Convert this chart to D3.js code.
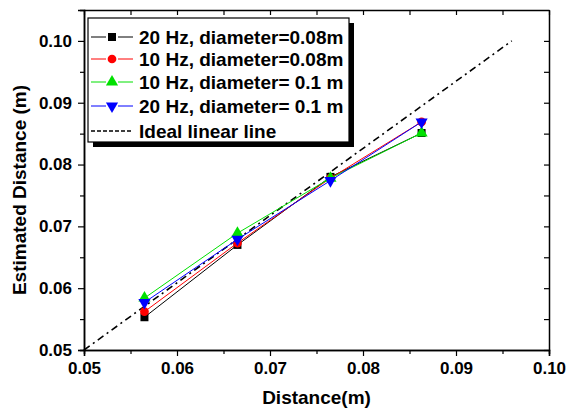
<!DOCTYPE html>
<html>
<head>
<meta charset="utf-8">
<script src="https://cdn.jsdelivr.net/npm/d3@7"></script>
<style>
  body { margin: 0; background: #fff; }
  svg text { font-family: "Liberation Sans", Arial, sans-serif; font-weight: bold; }
</style>
</head>
<body>
<svg id="chart" width="568" height="412"></svg>
<script>
'use strict';

// measured distances (x) and the estimates of each run
var distances = [0.0565, 0.0665, 0.0765, 0.0863];
var est20Hz008 = [0.0553, 0.0670, 0.0780, 0.0851];
var est10Hz008 = [0.0562, 0.0673, 0.0778, 0.0869];
var est10Hz01 = [0.0584, 0.0689, 0.0778, 0.0851];
var est20Hz01 = [0.0577, 0.0679, 0.0774, 0.0869];
var idealX = [0.05, 0.096];
var idealY = [0.05, 0.10];
var tickValues = [0.05, 0.06, 0.07, 0.08, 0.09, 0.10];
var minorTicks = [0.055, 0.065, 0.075, 0.085, 0.095];

var seriesNames = ['20 Hz, diameter=0.08m', '10 Hz, diameter=0.08m', '10 Hz, diameter= 0.1 m', '20 Hz, diameter= 0.1 m'];
var seriesColors = ['#000000', '#ff0000', '#00e000', '#0000ff'];
var seriesShapes = ['square', 'circle', 'triangle', 'triangleDown'];
var seriesValues = [est20Hz008, est10Hz008, est10Hz01, est20Hz01];

var margin = {top: 10, right: 19, bottom: 62, left: 84},
  width = 568 - margin.left - margin.right,
  height = 412 - margin.top - margin.bottom;

var svg = d3.select('#chart')
  .append('g')
  .attr('transform', 'translate(' + margin.left + ',' + margin.top + ')');

var x = d3.scaleLinear().domain([0.05, 0.10]).range([0, width]);
var y = d3.scaleLinear().domain([0.05, 0.105]).range([height, 0]);

// axes: bottom/left outward, top/right inward
var fmt = d3.format('.2f');
function styleAxis(g) {
  g.selectAll('path').attr('stroke', '#000').attr('stroke-width', 1.5);
  g.selectAll('line').attr('stroke', '#000').attr('stroke-width', 1.2);
  g.selectAll('text').style('font-size', '17px').attr('fill', '#000');
}

svg.append('g').attr('transform', 'translate(0,' + height + ')')
  .call(d3.axisBottom(x).tickValues(minorTicks).tickSize(4).tickFormat(''))
  .call(styleAxis);
svg.append('g').attr('transform', 'translate(0,' + height + ')')
  .call(d3.axisBottom(x).tickValues(tickValues).tickSize(6).tickPadding(6).tickFormat(fmt))
  .call(styleAxis);
svg.append('g')
  .call(d3.axisLeft(y).tickValues(minorTicks).tickSize(4).tickFormat(''))
  .call(styleAxis);
svg.append('g')
  .call(d3.axisLeft(y).tickValues(tickValues).tickSize(6).tickPadding(6).tickFormat(fmt))
  .call(styleAxis);
svg.append('g')
  .call(d3.axisTop(x).tickValues(tickValues.concat(minorTicks)).tickSizeInner(-5).tickSizeOuter(0).tickFormat(''))
  .call(styleAxis);
svg.append('g').attr('transform', 'translate(' + width + ',0)')
  .call(d3.axisRight(y).tickValues(tickValues.concat(minorTicks)).tickSizeInner(-5).tickSizeOuter(0).tickFormat(''))
  .call(styleAxis);

// ideal line
var idealLine = d3.line()
  .x(function (d) { return x(d[0]); })
  .y(function (d) { return y(d[1]); });
svg.append('path')
  .datum(d3.zip(idealX, idealY))
  .attr('fill', 'none')
  .attr('stroke', '#000')
  .attr('stroke-width', 1.6)
  .attr('stroke-dasharray', '7,4,2,4')
  .attr('d', idealLine);

var symbolTypes = {
  square: d3.symbolSquare,
  circle: d3.symbolCircle,
  triangle: d3.symbolTriangle,
  triangleDown: d3.symbolTriangle
};
function marker(sel, shape, color, size) {
  sel.append('path')
    .attr('d', d3.symbol().type(symbolTypes[shape]).size(size))
    .attr('transform', function () {
      return shape === 'triangleDown' ? 'rotate(180)' : null;
    })
    .attr('fill', color);
}

var line = d3.line()
  .x(function (d) { return x(d[0]); })
  .y(function (d) { return y(d[1]); });

seriesValues.forEach(function (vals, i) {
  var pts = d3.zip(distances, vals);
  svg.append('path')
    .datum(pts)
    .attr('fill', 'none')
    .attr('stroke', seriesColors[i])
    .attr('stroke-width', 1)
    .attr('d', line);
  pts.forEach(function (p) {
    var g = svg.append('g').attr('transform', 'translate(' + x(p[0]) + ',' + y(p[1]) + ')');
    marker(g, seriesShapes[i], seriesColors[i], seriesShapes[i] === 'circle' ? 60 : 64);
  });
});

// legend
var legend = svg.append('g').attr('transform', 'translate(' + (88 - margin.left) + ',' + (18 - margin.top) + ')');
var lw = 261, lh = 124;
legend.append('rect').attr('x', 5).attr('y', 5).attr('width', lw).attr('height', lh).attr('fill', '#000');
legend.append('rect').attr('x', 0).attr('y', 0).attr('width', lw).attr('height', lh)
  .attr('fill', '#fff').attr('stroke', '#000').attr('stroke-width', 1.2);

var rowY = [19, 41, 64, 88, 113];
seriesNames.forEach(function (name, i) {
  var row = legend.append('g').attr('transform', 'translate(0,' + rowY[i] + ')');
  row.append('line').attr('x1', 3).attr('x2', 45).attr('stroke', seriesColors[i]).attr('stroke-width', 1);
  var m = row.append('g').attr('transform', 'translate(24,0)');
  m.append('rect').attr('x', -6).attr('y', -5).attr('width', 12).attr('height', 10).attr('fill', '#fff');
  marker(m, seriesShapes[i], seriesColors[i], seriesShapes[i] === 'circle' ? 60 : 64);
  row.append('text').attr('x', 51).attr('dy', '0.36em').style('font-size', '19px').text(name);
});
var lastRow = legend.append('g').attr('transform', 'translate(0,' + rowY[4] + ')');
lastRow.append('line').attr('x1', 3).attr('x2', 45).attr('stroke', '#000')
  .attr('stroke-width', 1.6).attr('stroke-dasharray', '4,2');
lastRow.append('text').attr('x', 51).attr('dy', '0.36em').style('font-size', '19px').text('Ideal linear line');

// axis titles
svg.append('text')
  .attr('x', width / 2)
  .attr('y', height + 54)
  .attr('text-anchor', 'middle')
  .style('font-size', '19px')
  .text('Distance(m)');
svg.append('text')
  .attr('transform', 'rotate(-90)')
  .attr('x', -(190 - margin.top))
  .attr('y', -58)
  .attr('text-anchor', 'middle')
  .style('font-size', '19px')
  .text('Estimated Distance (m)');
</script>
</body>
</html>
